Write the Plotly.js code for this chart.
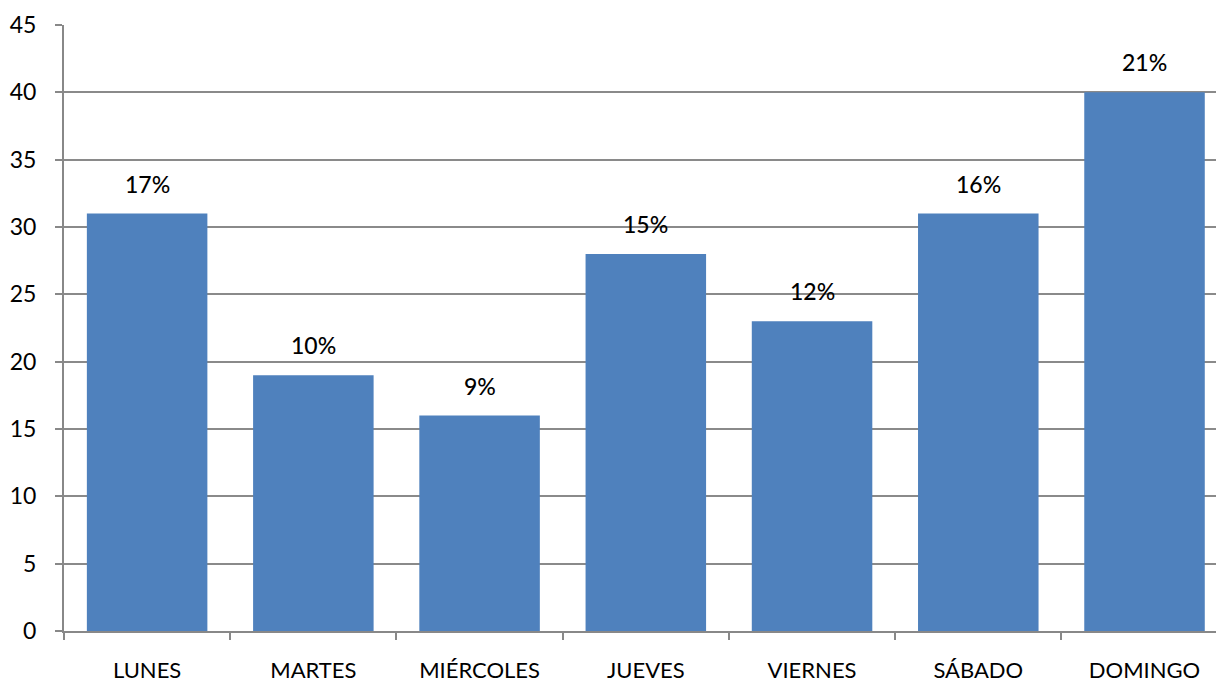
<!DOCTYPE html>
<html><head><meta charset="utf-8">
<script src="https://cdn.plot.ly/plotly-3.0.1.min.js"></script>
<style>html,body{margin:0;padding:0;background:#fff}</style>
</head><body>
<div id="chart" style="width:1216px;height:684px"></div>
<script>
const categories = ["LUNES","MARTES","MIÉRCOLES","JUEVES","VIERNES","SÁBADO","DOMINGO"];
const values = [31, 19, 16, 28, 23, 31, 40];
const percentLabels = ["17%","10%","9%","15%","12%","16%","21%"];
const yTicks = [0,5,10,15,20,25,30,35,40,45];

const font = "Lato, 'Open Sans', sans-serif";
const data = [{
  type: "bar",
  x: categories,
  y: values,
  marker: {color: "#4F81BD", line: {width: 0}},
  width: 0.725,
  hoverinfo: "none"
}];
const annotations = categories.map((c, i) => ({
  x: c, y: values[i], text: percentLabels[i], showarrow: false,
  yanchor: "bottom", yshift: 14, font: {family: font, size: 23, color: "#000", weight: 500}
}));
const layout = {
  width: 1216, height: 684,
  margin: {l: 64, r: 0, t: 25, b: 53, pad: 0},
  paper_bgcolor: "#fff", plot_bgcolor: "#fff",
  showlegend: false,
  xaxis: {
    type: "category",
    range: [-0.5, 6.43],
    showgrid: false,
    showline: true, linecolor: "#888", linewidth: 2,
    ticks: "outside", tickson: "boundaries", ticklen: 7, tickcolor: "#888", tickwidth: 2,
    tickfont: {family: font, size: 22, color: "#000"},
    ticklabelstandoff: 19,
    zeroline: false
  },
  yaxis: {
    range: [0, 45],
    tickvals: yTicks,
    showgrid: true, gridcolor: "#8a8a8a", gridwidth: 2,
    showline: true, linecolor: "#888", linewidth: 2,
    ticks: "outside", ticklen: 7, tickcolor: "#888", tickwidth: 2,
    tickfont: {family: font, size: 23, color: "#000"},
    ticklabelstandoff: 14,
    zeroline: false
  },
  annotations: annotations
};
Plotly.newPlot("chart", data, layout, {staticPlot: true});
</script>
</body></html>
